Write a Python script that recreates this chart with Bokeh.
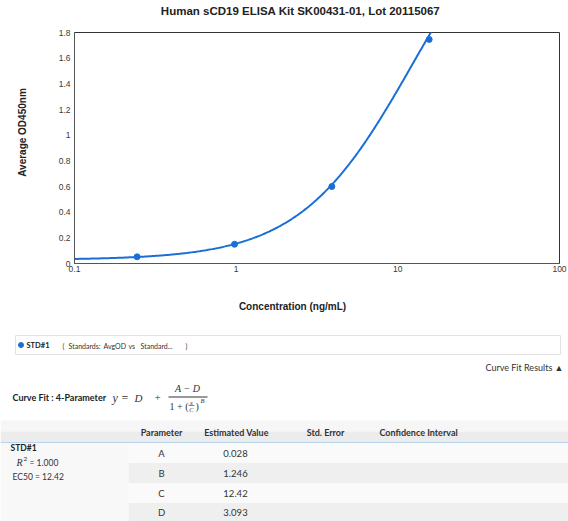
import numpy as np
from bokeh.plotting import figure
from bokeh.models import Range1d, FixedTicker
from bokeh.layouts import row
from bokeh.core.properties import value
from bokeh.embed import file_html
from bokeh.resources import INLINE

# ---------------- data ----------------
title_text = "Human sCD19 ELISA Kit SK00431-01, Lot 20115067"
x_label = "Concentration (ng/mL)"
y_label = "Average OD450nm"

conc = [0.244, 0.977, 3.906, 15.625]
avg_od = [0.052, 0.150, 0.600, 1.746]

param_names = ["A", "B", "C", "D"]
param_values = [0.028, 1.246, 12.42, 3.093]
param_labels = ["0.028", "1.246", "12.42", "3.093"]

x_ticks = [0.1, 1, 10, 100]
x_tick_labels = ["0.1", "1", "10", "100"]
y_ticks = [0, 0.2, 0.4, 0.6, 0.8, 1, 1.2, 1.4, 1.6, 1.8]
y_tick_labels = ["0", "0.2", "0.4", "0.6", "0.8", "1", "1.2", "1.4", "1.6", "1.8"]

table_headers = ["Parameter", "Estimated Value", "Std. Error", "Confidence Interval"]
series_name = "STD#1"
series_desc = ["(", "Standards:", "AvgOD", "vs", "Standard...", ")"]
r_squared = "1.000"
ec50 = "12.42"

BLUE = "#1a6fd6"
SANS = "Liberation Sans"
UI = "Lato"
SERIF = "Liberation Serif"

# 4-parameter logistic fit curve from the reported parameters
A, B, C, D = param_values
fit_x = np.logspace(-1, 2, 400)
fit_y = D + (A - D) / (1 + (fit_x / C) ** B)

W = 568
FL, FR, FT, FB = 74, 559, 32, 263      # chart frame edges on the page
T_H = 20                               # title strip height
P_BOT = 290                            # bottom of chart block
XL_BOT = 320                           # bottom of x-label strip
YL_W = 40                              # y-label strip width


def text_strip(width, height, x0, x1, ytop, ybot, **kw):
    f = figure(width=width, height=height, x_range=Range1d(x0, x1),
               y_range=Range1d(ybot, ytop), output_backend="svg",
               toolbar_location=None, x_axis_location=None,
               y_axis_location=None, **kw)
    f.grid.visible = False
    f.outline_line_color = None
    f.background_fill_color = "white"
    f.border_fill_color = "white"
    return f


# ---------------- title strip ----------------
t = text_strip(W, T_H, 0, W, 0, T_H, min_border=0)
t.text([300], [10.5], text=[title_text], text_font=value(SANS),
       text_font_size=value("11.5px"), text_font_style="bold",
       text_align="center", text_baseline="middle", text_color="#222222")

# ---------------- chart ----------------
P_H = P_BOT - T_H
p = figure(width=W - YL_W, height=P_H, x_axis_type="log",
           x_range=Range1d(0.1, 100), y_range=Range1d(0, 1.8),
           output_backend="svg", toolbar_location=None, title=None,
           min_border_left=FL - YL_W, min_border_right=W - FR,
           min_border_top=FT - T_H, min_border_bottom=P_BOT - FB)
p.background_fill_color = "white"
p.border_fill_color = "white"
p.outline_line_color = "#333333"
p.outline_line_width = 1
p.xgrid.visible = False
p.ygrid.visible = False

for ax in (p.xaxis, p.yaxis):
    ax.axis_line_color = "#555555"
    ax.major_tick_line_color = None
    ax.minor_tick_line_color = None
    ax.major_tick_out = 0
    ax.major_tick_in = 0
    ax.minor_tick_out = 0
    ax.major_label_text_font = SANS
    ax.major_label_text_font_size = "8.5px"
    ax.major_label_text_color = "#3a3a3a"

p.xaxis.ticker = FixedTicker(ticks=x_ticks)
p.xaxis.major_label_overrides = dict(zip(x_ticks, x_tick_labels))
p.xaxis.major_label_standoff = 2
p.yaxis.ticker = FixedTicker(ticks=y_ticks)
p.yaxis.major_label_overrides = dict(zip(y_ticks, y_tick_labels))
p.yaxis.major_label_standoff = 4

p.line(fit_x, fit_y, line_color=BLUE, line_width=2)
p.scatter(conc, avg_od, size=6, fill_color=BLUE, line_color=BLUE)

# y-label strip, same vertical borders as the chart so the frames line up
yl = text_strip(YL_W, P_H, 0, YL_W, FT, FB, min_border_left=0, min_border_right=0,
                min_border_top=FT - T_H, min_border_bottom=P_BOT - FB)
yl.text([22], [132], text=[y_label], angle=np.pi / 2, text_font=value(SANS),
        text_font_size=value("10px"), text_font_style="bold",
        text_align="center", text_baseline="middle", text_color="#222222")

# ---------------- x-label strip ----------------
xl = text_strip(W, XL_BOT - P_BOT, 0, W, P_BOT, XL_BOT, min_border=0)
xl.text([292], [306], text=[x_label], text_font=value(SANS),
        text_font_size=value("10px"), text_font_style="bold",
        text_align="center", text_baseline="middle", text_color="#222222")

# ---------------- legend / results panel ----------------
q = text_strip(W, 521 - XL_BOT, 0, W, XL_BOT, 521, min_border=0)

# legend box
q.quad(left=[15], right=[560], top=[335], bottom=[354], fill_color="white",
       line_color="#e2e2e2", line_width=1)
q.scatter([20.5], [344.5], size=5, fill_color=BLUE, line_color=BLUE)
q.text([26], [345], text=[series_name], text_font=value(UI), text_font_size=value("7.5px"),
       text_font_style="bold", text_baseline="middle", text_color="#222222")
q.text([62, 68, 103, 128, 140, 185], [345] * 6, text=series_desc, text_font=value(UI),
       text_font_size=value("7px"), text_baseline="middle", text_color="#333333")

# curve fit results toggle
q.text([563], [367], text=["Curve Fit Results \u25B2"], text_font=value(UI),
       text_font_size=value("9px"), text_baseline="middle", text_align="right",
       text_color="#333333")

# curve fit equation
q.text([12], [397], text=["Curve Fit : 4-Parameter"], text_font=value(UI),
       text_font_size=value("9px"), text_font_style="bold", text_baseline="middle",
       text_color="#222222")
q.text([112], [397], text=["y ="], text_font=value(SERIF), text_font_size=value("12px"),
       text_font_style="italic", text_baseline="middle", text_color="#333333")
q.text([134], [397], text=["D"], text_font=value(SERIF), text_font_size=value("11px"),
       text_font_style="italic", text_baseline="middle", text_color="#333333")
q.text([154], [397], text=["+"], text_font=value(SERIF), text_font_size=value("11px"),
       text_baseline="middle", text_color="#333333")
q.text([187], [388], text=["A \u2212 D"], text_font=value(SERIF), text_font_size=value("10px"),
       text_font_style="italic", text_baseline="middle", text_align="center",
       text_color="#333333")
q.segment(x0=[168], y0=[396.5], x1=[207], y1=[396.5], line_color="#333333", line_width=1)
q.text([169], [406], text=["1 + ("], text_font=value(SERIF), text_font_size=value("10px"),
       text_baseline="middle", text_color="#333333")
q.text([191], [402], text=["x"], text_font=value(SERIF), text_font_size=value("6.5px"),
       text_font_style="italic", text_baseline="middle", text_align="center",
       text_color="#333333")
q.segment(x0=[188], y0=[405], x1=[194], y1=[405], line_color="#333333", line_width=0.6)
q.text([191], [409], text=["C"], text_font=value(SERIF), text_font_size=value("6.5px"),
       text_font_style="italic", text_baseline="middle", text_align="center",
       text_color="#333333")
q.text([195], [406], text=[")"], text_font=value(SERIF), text_font_size=value("10px"),
       text_baseline="middle", text_color="#333333")
q.text([200], [400], text=["B"], text_font=value(SERIF), text_font_size=value("6.5px"),
       text_font_style="italic", text_baseline="middle", text_color="#333333")

# table header
q.quad(left=[0], right=[W], top=[420], bottom=[431], fill_color="#f6f6f6", line_color=None)
q.quad(left=[0], right=[W], top=[431], bottom=[442], fill_color="#ececec", line_color=None)
q.segment(x0=[0], y0=[442], x1=[W], y1=[442], line_color="#b9d5ee", line_width=1)
q.text([161, 236, 325], [432, 432, 432], text=table_headers[:3], text_font=value(UI),
       text_font_size=value("9px"), text_font_style="bold", text_baseline="middle",
       text_align="center", text_color="#333333")
q.text([379], [432], text=table_headers[3:], text_font=value(UI),
       text_font_size=value("9px"), text_font_style="bold", text_baseline="middle",
       text_color="#333333")

# table rows
row_top = [442.5, 462.5, 482.5, 502.5]
row_bot = [462.5, 482.5, 502.5, 522]
row_fill = ["#fafafa", "#efefef", "#fafafa", "#efefef"]
q.quad(left=[128] * 4, right=[W] * 4, top=row_top, bottom=row_bot,
       fill_color=row_fill, line_color=None)
q.quad(left=[0], right=[128], top=[442.5], bottom=[522], fill_color="#f8f8f8", line_color=None)
row_mid = [(a + b) / 2 for a, b in zip(row_top, row_bot)]
q.text([161] * 4, row_mid, text=param_names, text_font=value(UI), text_font_size=value("9.5px"),
       text_baseline="middle", text_align="center", text_color="#333333")
q.text([235] * 4, row_mid, text=param_labels, text_font=value(UI), text_font_size=value("9.5px"),
       text_baseline="middle", text_align="center", text_color="#333333")

# left cell
q.text([10], [447.5], text=[series_name], text_font=value(UI), text_font_size=value("8.5px"),
       text_font_style="bold", text_baseline="middle", text_color="#222222")
q.text([16], [462], text=["R"], text_font=value(SERIF), text_font_size=value("10px"),
       text_font_style="italic", text_baseline="middle", text_color="#333333")
q.text([23], [458.5], text=["2"], text_font=value(UI), text_font_size=value("6.5px"),
       text_baseline="middle", text_color="#333333")
q.text([29], [462], text=["= " + r_squared], text_font=value(UI), text_font_size=value("8.5px"),
       text_baseline="middle", text_color="#333333")
q.text([12], [476], text=["EC50 = " + ec50], text_font=value(UI), text_font_size=value("8.5px"),
       text_baseline="middle", text_color="#333333")

open("out.html", "w").write(file_html([t, row(yl, p), xl, q], INLINE))
